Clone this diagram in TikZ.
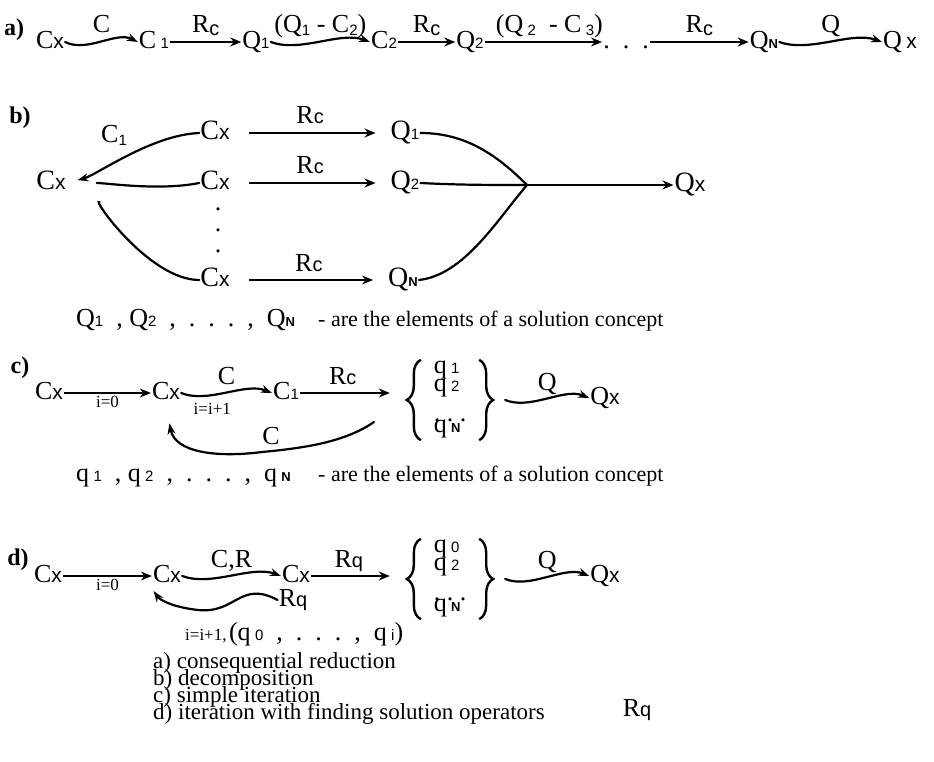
\documentclass[tikz,border=0pt]{standalone}
\usepackage{fontspec}
\setmainfont{Liberation Serif}
\newfontfamily\sansx{Liberation Sans}
\usetikzlibrary{arrows.meta,decorations.pathreplacing,calc}
\newcommand{\sbs}[1]{{\sansx\fontsize{15}{15}\selectfont #1}}
\newcommand{\sbN}{{\sansx\bfseries\fontsize{13}{13}\selectfont N}}
\newcommand{\Cx}{C{\sansx\fontsize{21}{21}\selectfont x}}
\newcommand{\Qx}{Q{\sansx\fontsize{21}{21}\selectfont x}}
\newcommand{\Rc}{R{\sansx\fontsize{20}{20}\selectfont c}}
\newcommand{\Rq}{R{\sansx\fontsize{20}{20}\selectfont q}}
\lineskiplimit=-30pt
\tikzset{
  sym/.style={font=\fontsize{26}{28}\selectfont,inner sep=1pt,text height=18pt,text depth=5pt},
  symb/.style={sym,font=\fontsize{28}{30}\selectfont},
  tag/.style={font=\fontsize{24}{24}\selectfont\bfseries,inner sep=0pt},
  lbl/.style={font=\fontsize{26}{28}\selectfont,inner sep=1pt},
  lift/.style={anchor=base,yshift=9pt},
  ilbl/.style={font=\fontsize{17}{17}\selectfont,inner sep=1pt},
  note/.style={font=\fontsize{22}{17}\selectfont,inner sep=0pt,anchor=base west},
  arr/.style={-{Stealth[length=11pt,width=9pt]},line width=1.5pt},
  warr/.style={-{Stealth[length=11pt,width=8pt]},line width=2.2pt,line cap=round},
  curve/.style={line width=2.2pt,line cap=round},
  qset/.style={font=\fontsize{26}{18}\selectfont,align=left,minimum width=110pt,minimum height=80pt,inner sep=0pt},
  brc/.style={decorate,decoration={brace,amplitude=14pt},line width=2.4pt},
  squig/.style={to path={.. controls ($(\tikztostart)!0.3!(\tikztotarget)+(0,11)$) and ($(\tikztostart)!0.7!(\tikztotarget)+(0,-11)$) .. (\tikztotarget) \tikztonodes}}
}
\begin{document}
\begin{tikzpicture}[x=1pt,y=-1pt]
  \useasboundingbox (0,0) rectangle (934,762);

  % a) consequential reduction
  \node[tag] (ta) at (14,30) {a)};
  \node[sym] (a1) at (50,42) {\Cx};
  \node[sym] (a2) at (154,42) {C\,\sbs{1}};
  \node[sym] (a3) at (256,42) {Q\sbs{1}};
  \node[sym] (a4) at (384,42) {C\sbs{2}};
  \node[sym] (a5) at (470,42) {Q\sbs{2}};
  \node[sym] (a6) at (626,42) {.\ \ .\ \ .};
  \node[sym] (a7) at (764,42) {Q\sbN};
  \node[sym] (a8) at (900,42) {Q\,{\sansx\fontsize{21}{21}\selectfont x}};

  \draw[warr] (a1.east) to[squig] node[lbl,lift] {C} (a2.west);
  \draw[arr] (a2.east) -- node[lbl,lift] {R\raisebox{-3pt}{\sansx\fontsize{20}{20}\selectfont c}} (a3.west);
  \draw[warr] (a3.east) to[squig] node[lbl,lift] {(Q\raisebox{-3pt}{\sbs{1}}\ -\ C\raisebox{-3pt}{\sbs{2}})} (a4.west);
  \draw[arr] (a4.east) -- node[lbl,lift] {R\raisebox{-3pt}{\sansx\fontsize{20}{20}\selectfont c}} (a5.west);
  \draw[arr] (a5.east) -- node[lbl,lift,xshift=6pt] {(Q\,\raisebox{-3pt}{\sbs{2}}\ \ -\ C\,\raisebox{-3pt}{\sbs{3}})} (a6.west);
  \draw[arr] (a6.east) -- node[lbl,lift] {R\raisebox{-3pt}{\sansx\fontsize{20}{20}\selectfont c}} (a7.west);
  \draw[warr] (a7.east) to[squig] node[lbl,lift] {Q} (a8.west);

  % b) decomposition
  \node[tag] (tb) at (20,118) {b)};
  \node[symb] (b0) at (51,183) {\Cx};
  \node[symb] (b1) at (215,133) {\Cx};
  \node[symb] (b2) at (215,183) {\Cx};
  \node[symb] (bn) at (215,280) {\Cx};
  \node[font=\fontsize{26}{21}\selectfont,align=center,inner sep=0pt] (bd) at (218,230) {.\\.\\.};
  \node[lbl] (bc1) at (114,135) {C\raisebox{-3pt}{\sbs{1}}};
  \node[symb] (c1) at (405,133) {Q\sbs{1}};
  \node[symb] (c2) at (405,183) {Q\sbs{2}};
  \node[symb] (cn) at (403,280) {Q\sbN};
  \coordinate (mg) at (527,185);
  \node[symb] (bqx) at (690,185) {\Qx};

  \draw[warr,shorten >=11pt] (b1.west) .. controls +(-48,2) and +(30,-8) .. (b0.east);
  \draw[curve,shorten >=30pt] (b2.west) .. controls +(-40,8) and +(40,0) .. (b0.east);
  \draw[curve,shorten >=38pt] (bn.west) .. controls +(-50,0) and +(24,14) .. (b0.east);
  \foreach \s/\t in {b1/c1,b2/c2,bn/cn}
    \draw[arr,shorten <=18pt,shorten >=14pt] (\s.east) -- node[lbl,lift] {\Rc} (\t.west);
  \draw[curve] (c1.east) .. controls +(45,0) and +(-30,-30) .. (mg);
  \draw[curve] (c2.east) .. controls +(40,2) and +(-40,0) .. (mg);
  \draw[curve] (cn.east) .. controls +(45,-5) and +(-30,35) .. (mg);
  \draw[arr] (mg) -- (bqx.west);

  \node[sym,anchor=base west] (qlist) at (75,326) {Q\sbs{1}\ \ ,\ Q\sbs{2}\ \ ,\ \ .\ \ .\ \ .\ \ ,\ \ Q\sbN};
  \node[note] (qtext) at (318,326) {- are the elements of a solution concept};

  % c) simple iteration
  \node[tag] (tc) at (20,368) {c)};
  \node[sym] (cc0) at (49,393) {\Cx};
  \node[sym] (cc1) at (166,393) {\Cx};
  \node[sym] (cc2) at (286,393) {C\sbs{1}};
  \node[qset] (cset) at (450,400) {q\,\sbs{1}\\q\,\sbs{2}\\[12pt].\ .\ .\\[-7pt]q\,\sbN};
  \node[sym] (cqx) at (605,398) {\Qx};
  \draw[brc] ([xshift=26pt]cset.south west) -- ([xshift=26pt]cset.north west);
  \draw[brc] ([xshift=-26pt]cset.north east) -- ([xshift=-26pt]cset.south east);

  \draw[arr] (cc0.east) -- node[ilbl,below=1pt] {i=0} (cc1.west);
  \draw[warr] (cc1.east) to[squig] node[lbl,lift] {C} node[ilbl,below=6pt,pos=0.35] {i=i+1} (cc2.west);
  \draw[arr,shorten >=5pt] (cc2.east) -- node[lbl,lift,pos=0.45] {\Rc} (cc2.east -| cset.west);
  \draw[warr] (cset.east) to[squig] node[lbl,lift] {Q} (cqx.west);
  \coordinate (cback) at (374,422);
  \draw[warr,shorten >=18pt] (cback) .. controls (345,442) and (305,448) .. (262,452)
    .. controls (215,458) and (175,452) .. (cc1.south);
  \node[lbl] (cloop) at (271,436) {C};

  \node[sym,anchor=base west] (qlow) at (75,481) {q\,\sbs{1}\ \ ,\ q\,\sbs{2}\ \ ,\ \ .\ \ .\ \ .\ \ ,\ \ q\,\sbN};
  \node[note] (qlowtext) at (318,481) {- are the elements of a solution concept};

  % d) iteration with finding solution operators
  \node[tag] (td) at (18,560) {d)};
  \node[sym] (dd0) at (48,576) {\Cx};
  \node[sym] (dd1) at (167,576) {\Cx};
  \node[sym] (dd2) at (296,576) {\Cx};
  \node[qset] (dset) at (450,579) {q\,\sbs{0}\\q\,\sbs{2}\\[12pt].\ .\ .\\[-7pt]q\,\sbN};
  \node[sym] (dqx) at (605,576) {\Qx};
  \draw[brc] ([xshift=26pt]dset.south west) -- ([xshift=26pt]dset.north west);
  \draw[brc] ([xshift=-26pt]dset.north east) -- ([xshift=-26pt]dset.south east);

  \draw[arr] (dd0.east) -- node[ilbl,below=1pt] {i=0} (dd1.west);
  \draw[warr] (dd1.east) to[squig] node[lbl,lift] {C,R} (dd2.west);
  \draw[arr,shorten >=5pt] (dd2.east) -- node[lbl,lift,pos=0.45] {\Rq} (dd2.east -| dset.west);
  \draw[warr] (dset.east) to[squig] node[lbl,lift] {Q} (dqx.west);
  \node[lbl] (drq) at (293,600) {\Rq};
  \draw[warr,shorten >=3pt] (drq.west) .. controls (240,580) and (236,614) .. (198,610)
    .. controls (172,607) and (160,600) .. (dd1.south west);
  \node[anchor=base west,inner sep=0pt] (dlbl) at (185,640) {{\fontsize{17}{17}\selectfont i=i+1,} {\fontsize{26}{28}\selectfont (q\,\sbs{0}\ \ ,\ \ .\ \ .\ \ .\ \ ,\ \ q\,\sbs{i})}};

  % legend
  \node[note,font=\fontsize{23}{17}\selectfont,anchor=north west,align=left] (legend) at (153,652) {a) consequential reduction\\b) decomposition\\c) simple iteration\\d) iteration with finding solution operators};
  \node[lbl] (legrq) at (637,710) {\Rq};
\end{tikzpicture}
\end{document}
